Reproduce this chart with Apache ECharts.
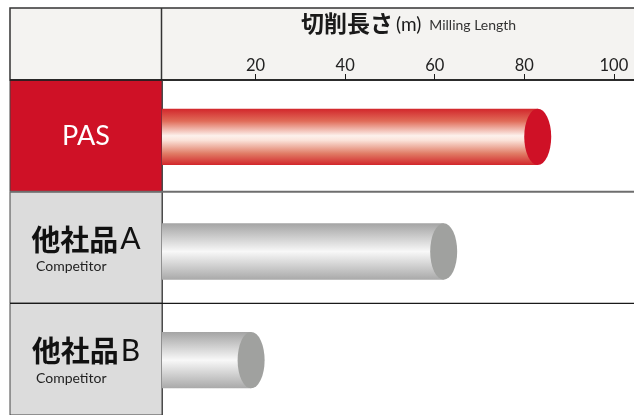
<!DOCTYPE html>
<html>
<head>
<meta charset="utf-8">
<script src="https://cdn.jsdelivr.net/npm/echarts@6/dist/echarts.min.js"></script>
<style>html,body{margin:0;padding:0;background:#fff}#c{width:634px;height:415px}</style>
</head>
<body>
<div id="c"></div>
<script>
// ---- data ----
var categories = ['PAS', '他社品A', '他社品B'];
var categoryJa = ['PAS', '他社品', '他社品'];
var categoryLetter = ['', 'A', 'B'];
var categorySub = ['', 'Competitor', 'Competitor'];
var millingLength = [83, 62, 19];
var tickValues = [20, 40, 60, 80, 100];
var titleJa = '切削長さ';
var titleUnit = '(m)';
var titleEn = 'Milling Length';

var RED = '#cf1126';
var chart = echarts.init(document.getElementById('c'), null, {renderer: 'canvas'});

var redGrad = [
  {offset: 0, color: '#d2262b'},
  {offset: 0.22, color: '#e06b58'},
  {offset: 0.48, color: '#fdf1ec'},
  {offset: 0.56, color: '#fbe3da'},
  {offset: 0.8, color: '#e07a64'},
  {offset: 1, color: '#d2262b'}
];
var greyGrad = [
  {offset: 0, color: '#a4a4a4'},
  {offset: 0.5, color: '#f8f8f8'},
  {offset: 1, color: '#a9a9a9'}
];

var TABLE_LEFT = 10;

chart.setOption({
  animation: false,
  backgroundColor: '#fff',
  grid: {left: 162, right: 0, top: 80, height: 340, containLabel: false},
  xAxis: {
    type: 'value', position: 'top', min: -0.9, max: 104.5,
    axisLine: {show: true, lineStyle: {color: '#1a1a1a', width: 1.5}},
    axisTick: {show: true, customValues: tickValues, length: 6, inside: false, lineStyle: {color: '#1a1a1a', width: 1}},
    axisLabel: {show: true, customValues: tickValues, margin: 6, fontSize: 16.5, color: '#222', fontFamily: 'Lato, "Noto Sans", sans-serif'},
    splitLine: {show: false}
  },
  yAxis: {
    type: 'category', inverse: true, data: categories,
    axisLine: {show: true, onZero: false, lineStyle: {color: '#1a1a1a', width: 1.5}},
    axisTick: {show: false}, axisLabel: {show: false}, splitLine: {show: false}
  },
  graphic: [
    {type: 'rect', z: 0, shape: {x: TABLE_LEFT, y: 8, width: 634, height: 72},
     style: {fill: '#f4f3f1', stroke: '#333', lineWidth: 1.5}},
    {type: 'line', z: 10, shape: {x1: 161.5, y1: 8, x2: 161.5, y2: 80}, style: {stroke: '#333', lineWidth: 1.5}},
    {type: 'line', z: 10, shape: {x1: TABLE_LEFT, y1: 80, x2: 162, y2: 80}, style: {stroke: '#1a1a1a', lineWidth: 1.5}},
    {type: 'text', z: 10, x: 301, y: 35,
     style: {
       text: '{a|' + titleJa + '}{b|' + titleUnit + '}{c|' + titleEn + '}',
       verticalAlign: 'bottom',
       rich: {
         a: {fontSize: 23, fontWeight: 'bold', fill: '#1a1a1a', fontFamily: '"Noto Sans CJK JP", sans-serif', verticalAlign: 'bottom'},
         b: {fontSize: 19, fill: '#1a1a1a', fontFamily: 'Lato, sans-serif', padding: [0, 0, 1, 3], verticalAlign: 'bottom'},
         c: {fontSize: 14, fill: '#333', fontFamily: 'Lato, sans-serif', padding: [0, 0, 3, 8], verticalAlign: 'bottom'}
       }
     }}
  ],
  series: [
    {
      type: 'custom', name: 'cells', clip: false, z: 1,
      data: categories.map(function (c, i) { return [0, i]; }),
      renderItem: function (params, api) {
        var idx = params.dataIndex;
        var p = api.coord([0, idx]);
        var band = api.size([0, 1])[1];
        var gridLeft = params.coordSys.x;
        var gridRight = params.coordSys.x + params.coordSys.width;
        var top = p[1] - band / 2;
        var cx = (TABLE_LEFT + gridLeft) / 2;
        var children = [
          {type: 'rect', shape: {x: TABLE_LEFT, y: top, width: gridLeft - TABLE_LEFT, height: band},
           style: {fill: idx === 0 ? RED : '#dcdcdc', stroke: '#444', lineWidth: 1}}
        ];
        if (idx > 0) {
          children.push({type: 'line', shape: {x1: TABLE_LEFT, y1: top, x2: gridRight, y2: top},
            style: {stroke: idx === 1 ? '#6e6e6e' : '#1a1a1a', lineWidth: idx === 1 ? 2 : 1.2}});
        }
        if (idx === 0) {
          children.push({type: 'text', x: cx, y: p[1],
            style: {text: categoryJa[idx], fill: '#fff', fontSize: 27, fontFamily: 'Lato, "Noto Sans", sans-serif',
                    align: 'center', verticalAlign: 'middle'}});
        } else {
          children.push({type: 'text', x: cx, y: p[1] - 8,
            style: {text: '{j|' + categoryJa[idx] + '}{l|' + categoryLetter[idx] + '}',
                    align: 'center', verticalAlign: 'middle',
                    rich: {
                      j: {fontSize: 29, fontWeight: 'bold', fill: '#111', fontFamily: '"Noto Sans CJK JP", sans-serif'},
                      l: {fontSize: 30, fill: '#111', fontFamily: 'Lato, "Noto Sans", sans-serif', padding: [0, 0, 0, 2]}
                    }}});
          children.push({type: 'text', x: 36, y: p[1] + 19,
            style: {text: categorySub[idx], fill: '#222', fontSize: 14, fontFamily: 'Lato, "Noto Sans", sans-serif',
                    align: 'left', verticalAlign: 'middle'}});
        }
        return {type: 'group', children: children};
      }
    },
    {
      type: 'custom', name: '切削長さ', clip: false, z: 3,
      data: millingLength.map(function (v, i) { return [v, i]; }),
      encode: {x: 0, y: 1},
      renderItem: function (params, api) {
        var idx = params.dataIndex;
        var end = api.coord([api.value(0), idx]);
        var band = api.size([0, 1])[1];
        var h = band * 0.505;
        var x0 = params.coordSys.x;
        var cy = end[1] + (idx === 1 ? 4 : 1);
        var rx = 13.5, ry = h / 2;
        var isRed = idx === 0;
        return {type: 'group', children: [
          {type: 'rect', shape: {x: x0, y: cy - h / 2, width: end[0] - x0, height: h},
           style: {fill: new echarts.graphic.LinearGradient(0, 0, 0, 1, isRed ? redGrad : greyGrad)}},
          {type: 'circle', x: end[0], y: cy, scaleX: rx / ry, shape: {cx: 0, cy: 0, r: ry},
           style: {fill: isRed ? RED : '#a0a19f'}}
        ]};
      }
    }
  ]
});
</script>
</body>
</html>
